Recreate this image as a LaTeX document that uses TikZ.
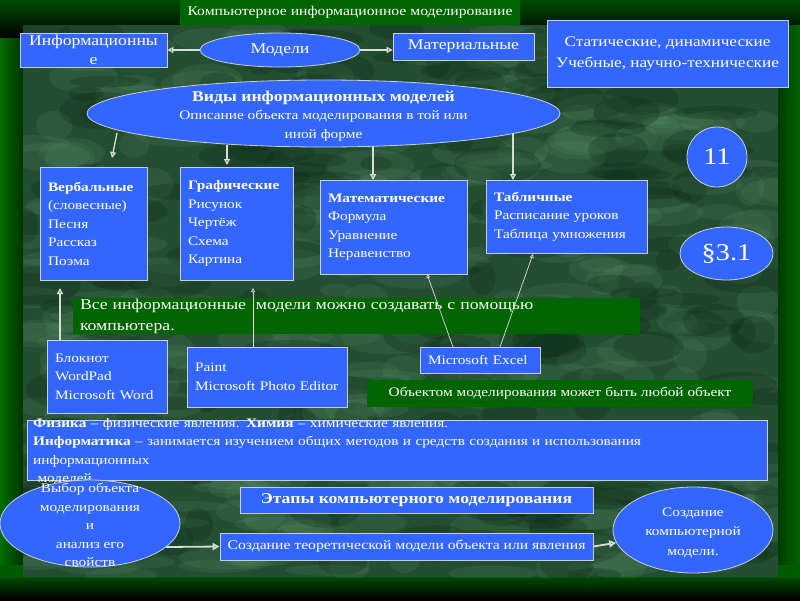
\documentclass[tikz,border=0pt]{standalone}
\usepackage{fontspec}
\setmainfont[FakeStretch=1.18]{Liberation Serif}
\usetikzlibrary{shapes.geometric,arrows.meta}
\definecolor{myblue}{RGB}{51,102,255}
\definecolor{edgec}{RGB}{200,205,220}
\definecolor{bandgreen}{RGB}{0,100,0}
\definecolor{framegreen}{RGB}{0,80,0}
\definecolor{gA}{RGB}{0,75,0}
\definecolor{gB}{RGB}{0,110,0}
\definecolor{gC}{RGB}{0,50,0}
\definecolor{gD}{RGB}{0,60,0}
\definecolor{gE}{RGB}{0,100,0}
\definecolor{gF}{RGB}{0,90,0}
\definecolor{gG}{RGB}{0,70,0}
\definecolor{marble}{RGB}{36,78,50}
\definecolor{marblelight}{RGB}{105,160,120}
\definecolor{marbledark}{RGB}{8,36,16}
\definecolor{arrowgray}{RGB}{215,222,215}
\begin{document}
\begin{tikzpicture}[x=1pt,y=-1pt,
  box/.style={draw=edgec, fill=myblue, line width=0.8pt, text=white, inner sep=0pt},
  ell/.style={ellipse, draw=edgec, fill=myblue, line width=0.8pt, text=white, inner sep=0pt},
  band/.style={fill=bandgreen, text=white, inner sep=0pt},
  txt/.style={text=white, inner sep=0pt},
  conn/.style={draw=arrowgray, line width=1.3pt, -{Triangle[open, length=6pt, width=6pt]}},
  thickconn/.style={draw=arrowgray, line width=1.8pt, -{Triangle[open, length=7pt, width=7pt]}},
  thinconn/.style={draw=arrowgray, line width=0.7pt, -{Triangle[open, length=4pt, width=4pt]}},
  f13/.style={font=\fontsize{13}{18.5}\selectfont},
  f14/.style={font=\fontsize{14}{19}\selectfont},
  f15/.style={font=\fontsize{15}{20}\selectfont}
]
\useasboundingbox (0,0) rectangle (800,600);
% frame
\fill[framegreen] (0,0) rectangle (800,600);
\shade[top color=gA, bottom color=black] (0,0) rectangle (800,38);
\shade[left color=gB, right color=gC] (0,38) rectangle (23,565);
\shade[left color=gD, right color=gE] (778,25) rectangle (800,565);
\fill[gF] (0,565) rectangle (800,578);
\shade[top color=gG, bottom color=black] (0,578) rectangle (800,600);
% marble
\begin{scope}
\clip (23,25) rectangle (778,577);
\fill[marble] (23,25) rectangle (778,577);
\pgfmathsetseed{12}
\foreach \i in {1,...,320}{
  \pgfmathsetmacro\px{23+755*rnd}
  \pgfmathsetmacro\py{25+552*rnd}
  \pgfmathsetmacro\rx{14+34*rnd}
  \pgfmathsetmacro\ry{5+12*rnd}
  \fill[marblelight, opacity=0.13] (\px,\py) ellipse [x radius=\rx pt, y radius=\ry pt];
}
\foreach \i in {1,...,200}{
  \pgfmathsetmacro\px{23+755*rnd}
  \pgfmathsetmacro\py{25+552*rnd}
  \pgfmathsetmacro\rx{12+34*rnd}
  \pgfmathsetmacro\ry{5+14*rnd}
  \fill[marbledark, opacity=0.22] (\px,\py) ellipse [x radius=\rx pt, y radius=\ry pt];
}
\end{scope}

% title
\node[band, minimum width=340pt, minimum height=25pt, font=\fontsize{13.3}{15}\selectfont] (title) at (350,12.5) {Компьютерное информационное моделирование};

% top row
\node[box, minimum width=147pt, minimum height=34pt, text width=145pt, align=center, font=\fontsize{15}{19}\selectfont] (info) at (93.5,50) {Информационны\\е};
\node[ell, minimum width=160pt, minimum height=34pt, f15] (models) at (280,50) {Модели};
\node[box, minimum width=141pt, minimum height=27pt, f15] (mat) at (463.5,46.5) {Материальные};
\node[box, minimum width=241pt, minimum height=67pt, align=center, font=\fontsize{14.6}{21}\selectfont] (stat) at (667.5,53.5) {Статические, динамические\\Учебные, научно-технические};
\draw[conn] (models.west) -- (info.east);
\draw[conn] (models.east) -- (mat.west |- models.east);

% kinds ellipse
\node[ell, minimum width=473pt, minimum height=67pt] (vidy) at (323.5,113.5) {};
\node[txt, align=center, f13] (vidyT) at (323.5,116) {{\fontsize{15}{19}\selectfont\bfseries Виды информационных моделей}\\Описание объекта моделирования в той или\\иной форме};

% kinds boxes
\node[box, minimum width=107pt, minimum height=113pt, text width=91pt, align=left, f13] (verb) at (93.5,223.5) {\textbf{Вербальные}\\(словесные)\\Песня\\Рассказ\\Поэма};
\node[box, minimum width=113pt, minimum height=113pt, text width=97pt, align=left, f13] (graph) at (236.5,223.5) {\textbf{Графические}\\Рисунок\\Чертёж\\Схема\\Картина};
\node[box, minimum width=147pt, minimum height=94pt, text width=131pt, align=left, f13] (math) at (393.5,227) {\textbf{Математические}\\Формула\\Уравнение\\Неравенство};
\node[box, minimum width=161pt, minimum height=73pt, text width=145pt, align=left, f13] (tabl) at (566.5,216.5) {\textbf{Табличные}\\Расписание уроков\\Таблица умножения};

\coordinate (a1s) at (117,133);
\coordinate (a1e) at (112,158);
\coordinate (a2s) at (227,145);
\coordinate (a2e) at (227,165);
\coordinate (a3s) at (373,146);
\coordinate (a3e) at (373,180);
\coordinate (a4s) at (513,133);
\coordinate (a4e) at (513,180);
\draw[conn] (a1s) -- (a1e);
\draw[conn] (a2s) -- (a2e);
\draw[conn] (a3s) -- (a3e);
\draw[conn] (a4s) -- (a4e);

% numbers
\node[ell, minimum width=60pt, minimum height=60pt, font=\fontsize{24}{24}\selectfont] (num) at (717,157) {11};
\node[ell, minimum width=93pt, minimum height=53pt, font=\fontsize{24}{24}\selectfont] (para) at (726.5,253.5) {§3.1};

% computer band
\node[band, minimum width=567pt, minimum height=36pt, text width=553pt, align=left, font=\fontsize{15}{21}\selectfont] (allband) at (356.5,316) {Все информационные\ \ модели можно создавать с помощью\\компьютера.};

% software boxes
\node[box, minimum width=120pt, minimum height=73pt, text width=104pt, align=left, f13] (blok) at (107,376.5) {Блокнот\\WordPad\\Microsoft Word};
\node[box, minimum width=160pt, minimum height=60pt, text width=144pt, align=left, f13] (paint) at (267,377) {Paint\\Microsoft Photo Editor};
\node[box, minimum width=120pt, minimum height=26pt, text width=104pt, align=left, f13] (excel) at (480,360) {Microsoft Excel};

\coordinate (b1s) at (60,340);
\coordinate (b1e) at (60,288);
\coordinate (b2s) at (253,347);
\coordinate (b2e) at (253,288);
\coordinate (b3s) at (453,347);
\coordinate (b3e) at (427,274);
\coordinate (b4s) at (500,347);
\coordinate (b4e) at (533,254);
\draw[conn] (b1s) -- (b1e);
\draw[thinconn] (b2s) -- (b2e);
\draw[thinconn] (b3s) -- (b3e);
\draw[thinconn] (b4s) -- (b4e);

\node[band, minimum width=386pt, minimum height=27pt, f13] (objband) at (560,393.5) {Объектом моделирования может быть любой объект};

% big box
\node[box, minimum width=740pt, minimum height=60pt] (fiz) at (397,450) {};
\node[txt, anchor=north west, text width=732pt, align=left, f13] (fizT) at (33,418) {\textbf{Физика} – физические явления. \textbf{Химия} – химические явления.\\\textbf{Информатика} – занимается изучением общих методов и средств создания и использования\\информационных\\\ моделей.};

% stages
\node[box, minimum width=353pt, minimum height=26pt, font=\fontsize{15}{20}\selectfont\bfseries] (etap) at (416.5,500) {Этапы компьютерного моделирования};
\node[ell, minimum width=180pt, minimum height=87pt] (vybor) at (90,523.5) {};
\node[txt, align=center, f13] (vyborT) at (90,525) {Выбор объекта\\моделирования\\и\\анализ его\\свойств};
\node[box, minimum width=373pt, minimum height=27pt, font=\fontsize{13.3}{18}\selectfont] (teor) at (406.5,546.5) {Создание теоретической модели объекта или явления};
\node[ell, minimum width=160pt, minimum height=86pt] (komp) at (693,530) {};
\node[txt, align=center, font=\fontsize{13}{19.5}\selectfont] (kompT) at (693,532.5) {Создание\\компьютерной\\модели.};

\coordinate (c1s) at (166,547);
\draw[thickconn] (c1s) -- (teor.west);
\draw[thickconn] (teor.east) -- (komp);
\end{tikzpicture}
\end{document}
